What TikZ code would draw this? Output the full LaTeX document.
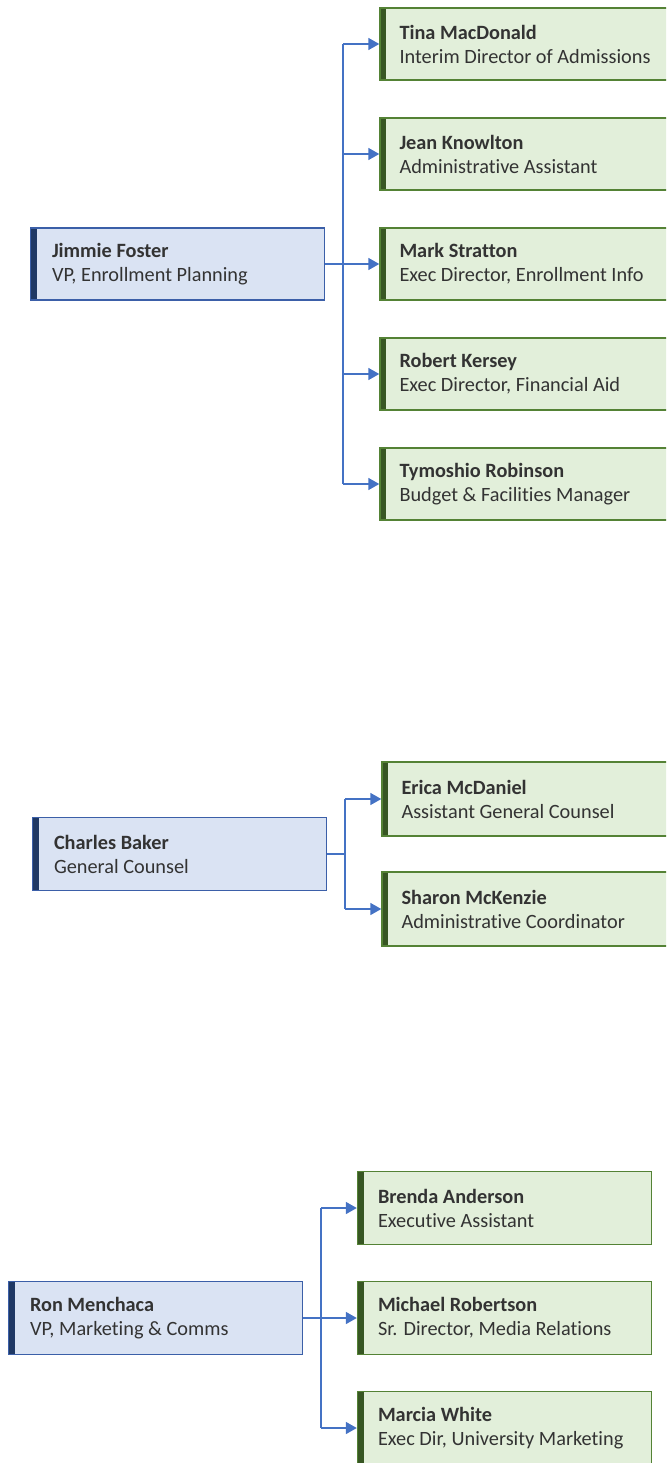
\documentclass[tikz,border=0pt]{standalone}
\usepackage{fontspec}
\setmainfont[Ligatures=NoCommon]{Carlito}
\usetikzlibrary{arrows.meta}
\definecolor{cfill}{HTML}{E2EFDA}
\definecolor{cborder}{HTML}{548235}
\definecolor{cdark}{HTML}{375623}
\definecolor{pfill}{HTML}{DAE3F3}
\definecolor{pborder}{HTML}{3B5FA8}
\definecolor{pdark}{HTML}{1F3864}
\definecolor{link}{HTML}{4472C4}
\definecolor{txtc}{HTML}{333333}
\tikzset{
  box/.style={rectangle, minimum width=294pt, minimum height=72pt, inner sep=0pt, line width=1.4pt},
  childbox/.style={box, draw=cborder, fill=cfill,
    path picture={\fill[cdark] (path picture bounding box.north west) rectangle ([xshift=6pt]path picture bounding box.south west);}},
  parentbox/.style={box, draw=pborder, fill=pfill,
    path picture={\fill[pdark] (path picture bounding box.north west) rectangle ([xshift=6pt]path picture bounding box.south west);}},
  label/.style={anchor=west, align=left, inner sep=0pt, text=txtc, font=\fontsize{20.3}{24}\selectfont},
  link/.style={draw=link, line width=1.5pt},
  arr/.style={link, -{Triangle[length=11pt,width=12pt]}},
}
\newcommand{\person}[2]{\textbf{#1}\\#2}
\begin{document}
\begin{tikzpicture}[x=1pt,y=-1pt]
\useasboundingbox (0,0) rectangle (666,1463);
\clip (0,0) rectangle (666,1463);
% ---------- Group 1 ----------
\node[parentbox] (jf) at (177.5,264) {};
\node[label] at ([xshift=22pt]jf.west) {\person{Jimmie Foster}{VP, Enrollment Planning}};
\node[childbox] (tm) at (527,44) {};
\node[childbox] (jk) at (527,154) {};
\node[childbox] (ms) at (527,264) {};
\node[childbox] (rk) at (527,374) {};
\node[childbox] (tr) at (527,484) {};
\node[label] at ([xshift=20pt]tm.west) {\person{Tina MacDonald}{Interim Director of Admissions}};
\node[label] at ([xshift=20pt]jk.west) {\person{Jean Knowlton}{Administrative Assistant}};
\node[label] at ([xshift=20pt]ms.west) {\person{Mark Stratton}{Exec Director, Enrollment Info}};
\node[label] at ([xshift=20pt]rk.west) {\person{Robert Kersey}{Exec Director, Financial Aid}};
\node[label] at ([xshift=20pt]tr.west) {\person{Tymoshio Robinson}{Budget \& Facilities Manager}};
\coordinate (j1) at (343,264);
\draw[link] (jf.east) -- (j1);
\draw[link] (j1 |- tm.west) -- (j1 |- tr.west);
\foreach \c in {tm,jk,ms,rk,tr} \draw[arr] (j1 |- \c.west) -- (\c.west);
% ---------- Group 2 ----------
\node[parentbox, minimum height=73pt] (cb) at (179.5,854) {};
\node[label] at ([xshift=22pt]cb.west) {\person{Charles Baker}{General Counsel}};
\node[childbox, minimum height=74pt] (em) at (529,799) {};
\node[childbox, minimum height=74pt] (sm) at (529,909) {};
\node[label] at ([xshift=20pt]em.west) {\person{Erica McDaniel}{Assistant General Counsel}};
\node[label] at ([xshift=20pt]sm.west) {\person{Sharon McKenzie}{Administrative Coordinator}};
\coordinate (j2) at (345,854);
\draw[link] (cb.east) -- (j2);
\draw[link] (j2 |- em.west) -- (j2 |- sm.west);
\foreach \c in {em,sm} \draw[arr] (j2 |- \c.west) -- (\c.west);
% ---------- Group 3 ----------
\node[parentbox, minimum height=73pt] (rm) at (155.5,1318) {};
\node[label] at ([xshift=22pt]rm.west) {\person{Ron Menchaca}{VP, Marketing \& Comms}};
\node[childbox, minimum height=73pt] (ba) at (504.5,1208) {};
\node[childbox, minimum height=73pt] (mr) at (504.5,1318) {};
\node[childbox, minimum height=73pt] (mw) at (504.5,1428) {};
\node[label] at ([xshift=21pt]ba.west) {\person{Brenda Anderson}{Executive Assistant}};
\node[label] at ([xshift=21pt]mr.west) {\person{Michael Robertson}{Sr. Director, Media Relations}};
\node[label] at ([xshift=21pt]mw.west) {\person{Marcia White}{Exec Dir, University Marketing}};
\coordinate (j3) at (321,1318);
\draw[link] (rm.east) -- (j3);
\draw[link] (j3 |- ba.west) -- (j3 |- mw.west);
\foreach \c in {ba,mr,mw} \draw[arr] (j3 |- \c.west) -- (\c.west);
\end{tikzpicture}
\end{document}
